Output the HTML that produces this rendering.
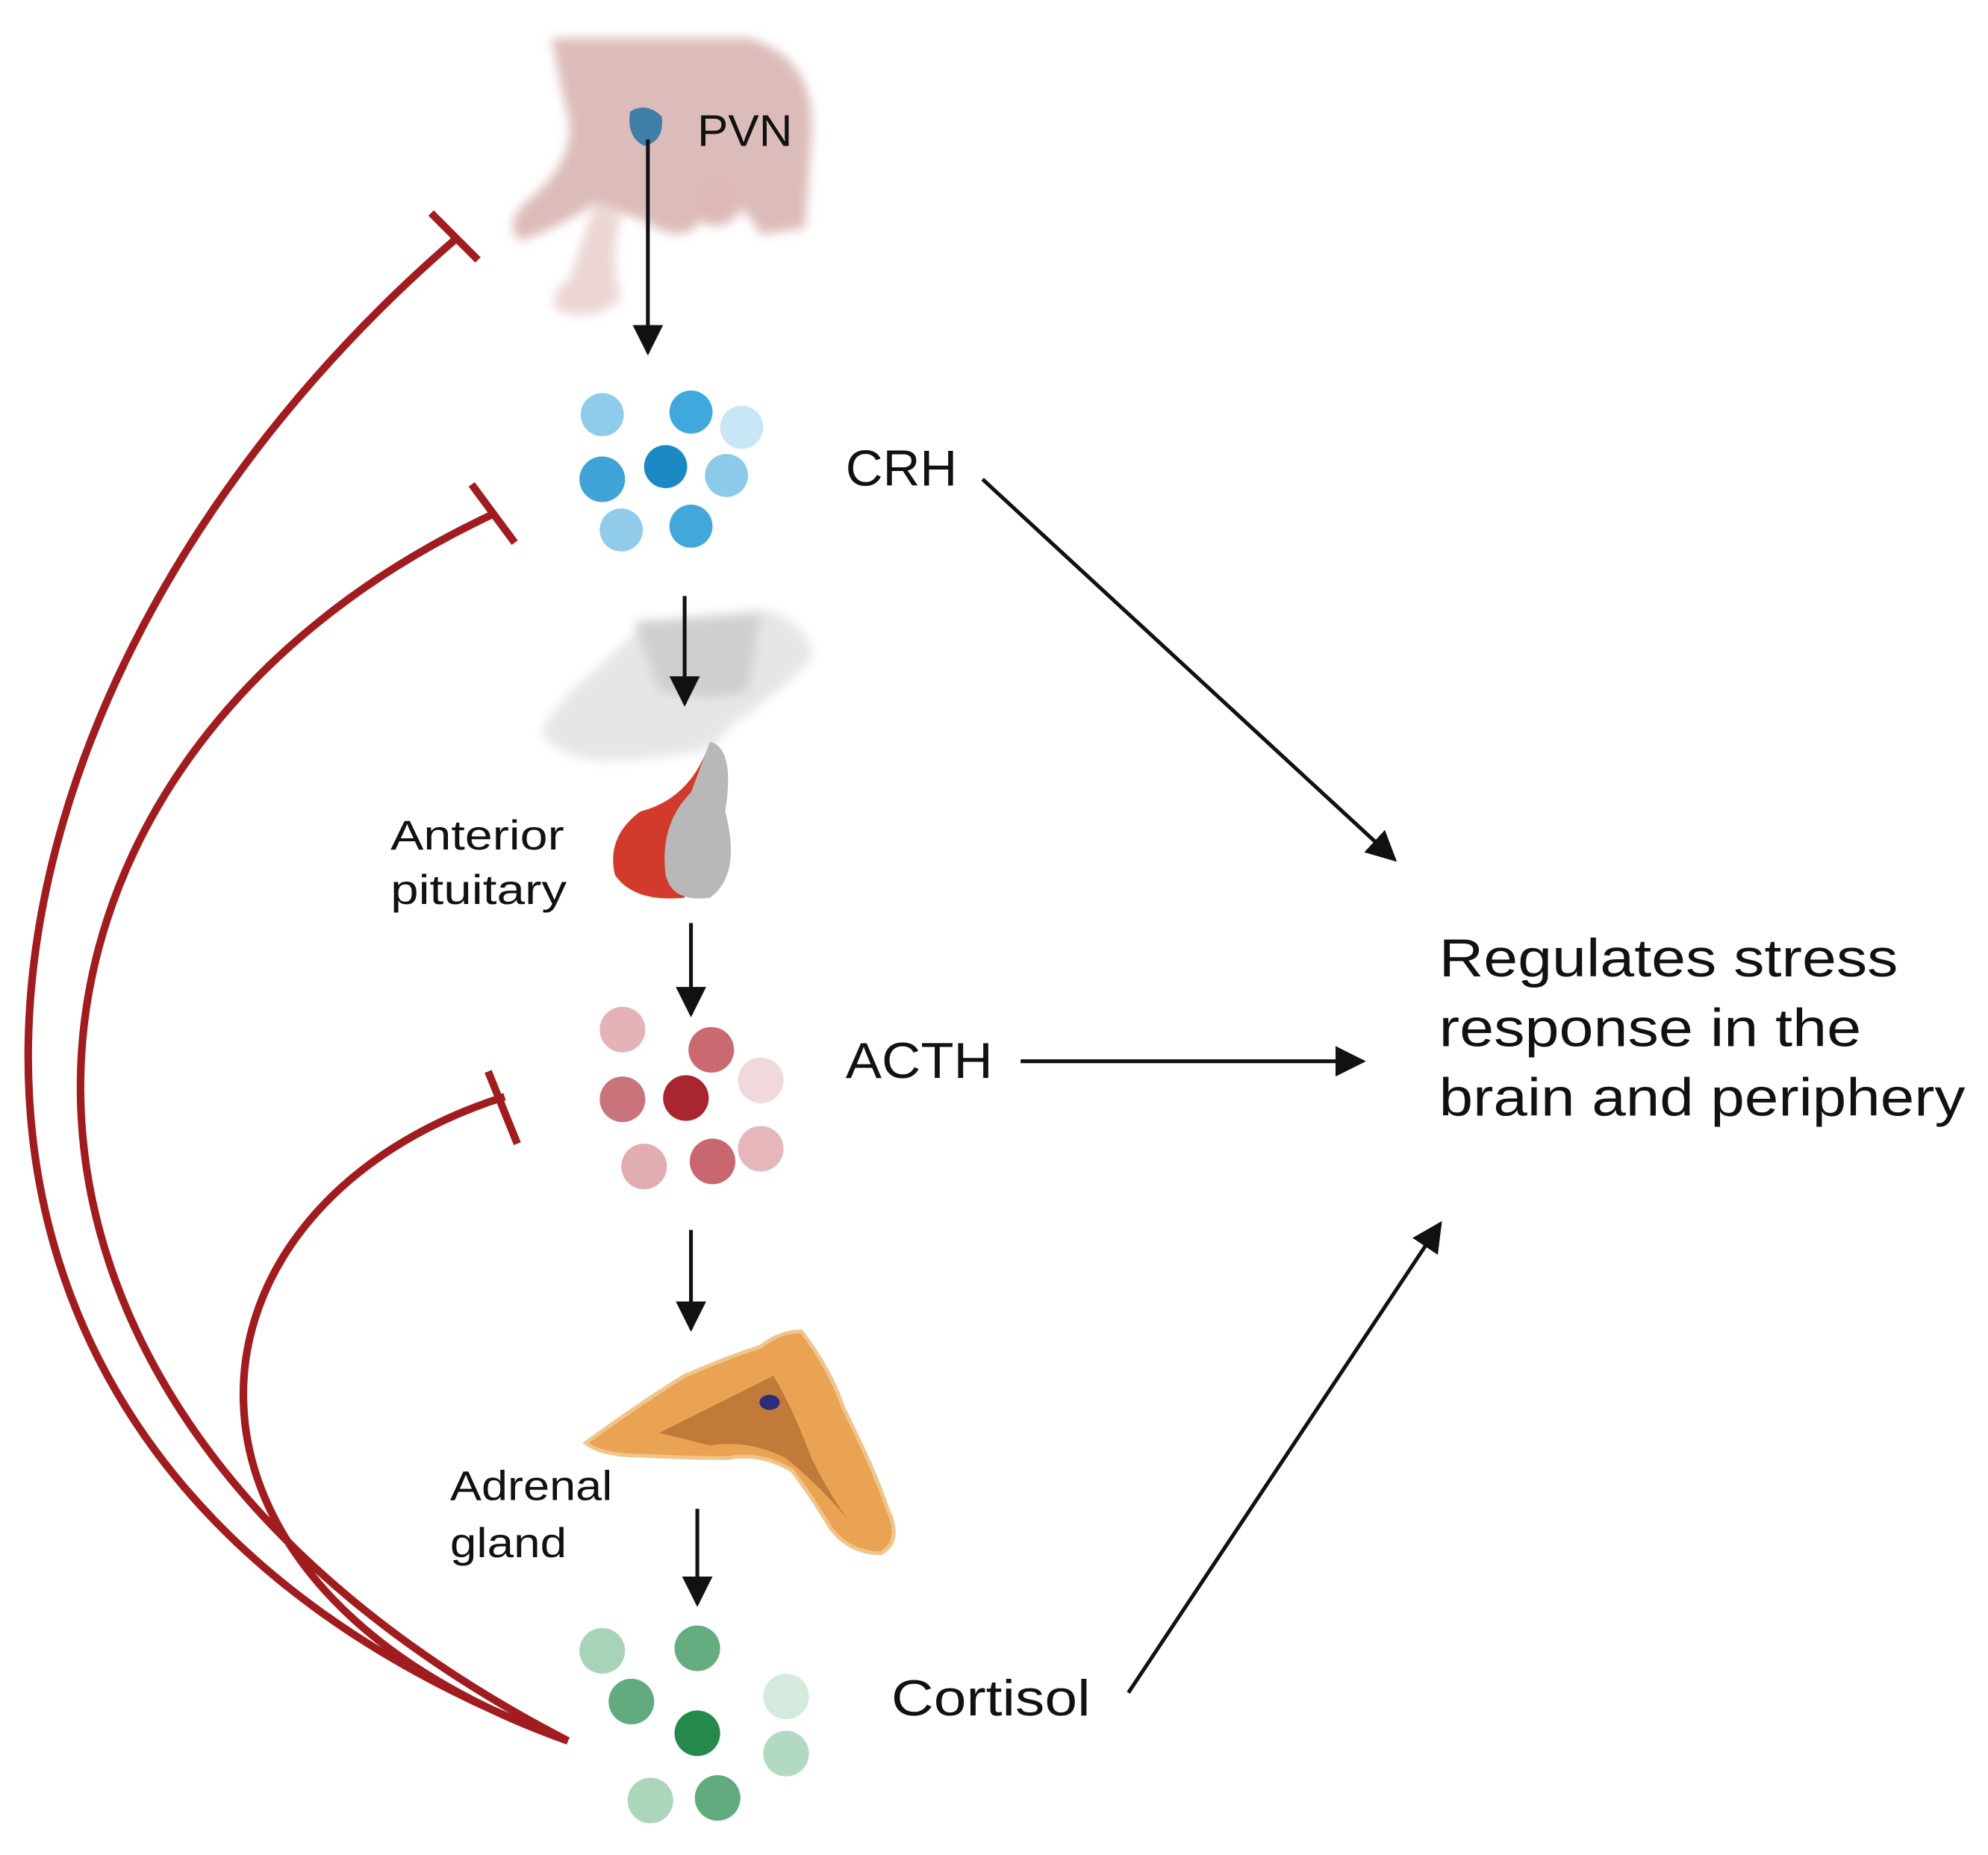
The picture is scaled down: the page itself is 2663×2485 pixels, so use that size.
<!DOCTYPE html>
<html><head><meta charset="utf-8"><style>
html,body{margin:0;padding:0;background:#fff}
svg{display:block}
text{font-family:"Liberation Sans",sans-serif;fill:#111}
</style></head><body>
<svg width="2663" height="2485" viewBox="0 0 1568 1463" preserveAspectRatio="none" xmlns="http://www.w3.org/2000/svg">
<defs>
<marker id="ah" viewBox="0 0 10 10" refX="9" refY="5" markerWidth="8" markerHeight="8" orient="auto-start-reverse" markerUnits="strokeWidth">
<path d="M0,0 L10,5 L0,10 z" fill="#111"/></marker>
<filter id="blur"><feGaussianBlur stdDeviation="4"/></filter>
</defs>

<!-- PVN brain -->
<g filter="url(#blur)">
<path d="M435,30 L590,30 Q645,45 640,110 L635,180 L600,185 Q580,150 560,160 Q545,200 510,175 L470,160 Q440,180 410,190 Q395,175 420,155 Q460,120 445,80 Z" fill="#dcbcba"/>
<path d="M470,160 Q455,200 450,220 Q430,232 440,245 Q470,255 490,235 Q480,205 490,170 Z" fill="#ecd6d4"/>
<circle cx="565" cy="158" r="20" fill="#dcb9b7"/>
</g>
<path d="M497,88 Q510,80 522,92 Q524,112 508,115 Q494,108 497,88 Z" fill="#3f7ea6"/>
<text x="550" y="115" font-size="35" textLength="75" lengthAdjust="spacingAndGlyphs">PVN</text>
<line x1="511" y1="110" x2="511" y2="278" stroke="#111" stroke-width="3" marker-end="url(#ah)"/>

<!-- CRH balls -->
<g>
<circle cx="475" cy="327" r="17" fill="#8fcbea"/>
<circle cx="545" cy="325" r="17" fill="#3fa9dd"/>
<circle cx="585" cy="337" r="17" fill="#c8e6f5"/>
<circle cx="475" cy="378" r="18" fill="#3fa3d8"/>
<circle cx="525" cy="368" r="17" fill="#1b8ac4"/>
<circle cx="573" cy="375" r="17" fill="#8dcaea"/>
<circle cx="490" cy="418" r="17" fill="#90cbea"/>
<circle cx="545" cy="415" r="17" fill="#42a8dc"/>
</g>
<text x="667" y="383" font-size="40" textLength="88" lengthAdjust="spacingAndGlyphs">CRH</text>
<line x1="775" y1="378" x2="1100" y2="678" stroke="#111" stroke-width="3" marker-end="url(#ah)"/>

<!-- pituitary -->
<g filter="url(#blur)">
<path d="M450,545 Q480,520 510,490 L600,480 Q640,490 640,520 Q610,550 580,570 L560,590 Q520,600 470,600 Q420,590 430,570 Z" fill="#e6e6e6"/>
<path d="M500,490 L600,485 L590,545 Q560,555 520,545 Z" fill="#cfcfcf"/>
</g>
<line x1="540" y1="470" x2="540" y2="555" stroke="#111" stroke-width="3" marker-end="url(#ah)"/>
<path d="M560,585 Q545,630 505,640 Q478,660 485,690 Q500,712 540,708 L545,660 Z" fill="#d23a2c"/>
<path d="M560,585 Q580,590 572,640 Q585,690 560,708 Q530,712 525,690 Q520,650 545,625 Z" fill="#b8b8b8"/>
<text x="308" y="670" font-size="33" textLength="137" lengthAdjust="spacingAndGlyphs">Anterior</text>
<text x="308" y="713" font-size="33" textLength="139" lengthAdjust="spacingAndGlyphs">pituitary</text>
<line x1="545" y1="728" x2="545" y2="800" stroke="#111" stroke-width="3" marker-end="url(#ah)"/>

<!-- ACTH balls -->
<g>
<circle cx="491" cy="812" r="18" fill="#e4b3b7"/>
<circle cx="561" cy="828" r="18" fill="#c96a71"/>
<circle cx="600" cy="852" r="18" fill="#f1d8da"/>
<circle cx="491" cy="867" r="18" fill="#c9737a"/>
<circle cx="541" cy="866" r="18" fill="#a92530"/>
<circle cx="508" cy="920" r="18" fill="#e2adb1"/>
<circle cx="562" cy="916" r="18" fill="#c8676f"/>
<circle cx="600" cy="906" r="18" fill="#e6b7ba"/>
</g>
<text x="667" y="850" font-size="40" textLength="116" lengthAdjust="spacingAndGlyphs">ACTH</text>
<line x1="805" y1="837" x2="1075" y2="837" stroke="#111" stroke-width="3" marker-end="url(#ah)"/>
<line x1="545" y1="970" x2="545" y2="1048" stroke="#111" stroke-width="3" marker-end="url(#ah)"/>

<!-- adrenal -->
<path d="M462,1138 Q500,1110 540,1085 Q575,1070 600,1062 Q615,1050 632,1050 Q655,1080 665,1110 Q690,1160 700,1190 Q712,1215 695,1225 Q670,1225 655,1205 Q640,1180 625,1160 Q600,1145 575,1150 Q540,1150 505,1148 Q475,1148 462,1138 Z" fill="#e9a353" stroke="#f0c58c" stroke-width="3"/>
<path d="M520,1130 Q570,1105 610,1085 Q625,1110 640,1150 Q655,1180 670,1200 Q650,1175 620,1150 Q590,1135 560,1140 Z" fill="#c27a3a"/>
<ellipse cx="607" cy="1106" rx="8" ry="6" fill="#2a2e7a"/>
<text x="355" y="1183" font-size="33" textLength="128" lengthAdjust="spacingAndGlyphs">Adrenal</text>
<text x="355" y="1228" font-size="33" textLength="92" lengthAdjust="spacingAndGlyphs">gland</text>
<line x1="550" y1="1190" x2="550" y2="1265" stroke="#111" stroke-width="3" marker-end="url(#ah)"/>

<!-- cortisol balls -->
<g>
<circle cx="475" cy="1302" r="18" fill="#a7d4b9"/>
<circle cx="550" cy="1300" r="18" fill="#65ad80"/>
<circle cx="498" cy="1342" r="18" fill="#62ab7e"/>
<circle cx="620" cy="1338" r="18" fill="#d3eadc"/>
<circle cx="550" cy="1367" r="18" fill="#24894a"/>
<circle cx="620" cy="1383" r="18" fill="#b2d9c1"/>
<circle cx="513" cy="1420" r="18" fill="#acd6bc"/>
<circle cx="566" cy="1418" r="18" fill="#62ab7e"/>
</g>
<text x="703" y="1353" font-size="40" textLength="157" lengthAdjust="spacingAndGlyphs">Cortisol</text>
<line x1="890" y1="1335" x2="1136" y2="965" stroke="#111" stroke-width="3" marker-end="url(#ah)"/>

<text x="1135" y="770" font-size="42" textLength="362" lengthAdjust="spacingAndGlyphs">Regulates stress</text>
<text x="1135" y="825" font-size="42" textLength="333" lengthAdjust="spacingAndGlyphs">response in the</text>
<text x="1135" y="880" font-size="42" textLength="415" lengthAdjust="spacingAndGlyphs">brain and periphery</text>

<!-- red feedback -->
<g fill="none" stroke="#a11c1f" stroke-width="6" stroke-linecap="butt">
<path d="M448,1373 C -150,1150 -60,550 360,188"/>
<line x1="340" y1="168" x2="377" y2="205"/>
<path d="M448,1373 C -80,1100 -30,600 390,405"/>
<line x1="372" y1="382" x2="406" y2="428"/>
<path d="M448,1373 C 100,1250 130,950 398,865"/>
<line x1="385" y1="845" x2="408" y2="902"/>
</g>
</svg>
</body></html>
